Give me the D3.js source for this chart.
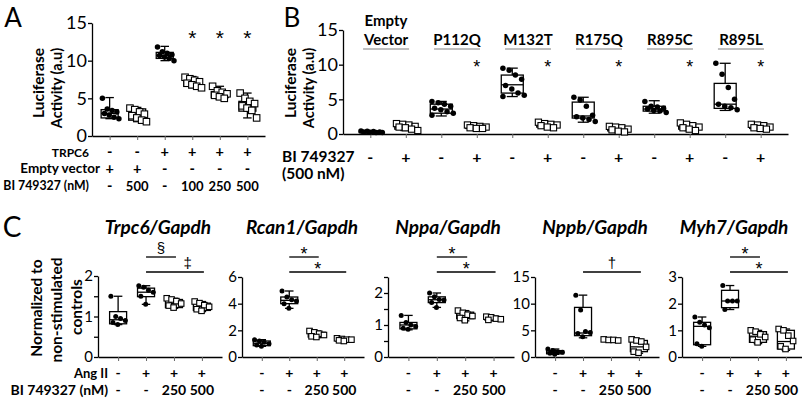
<!DOCTYPE html>
<html><head><meta charset="utf-8">
<script src="https://cdn.jsdelivr.net/npm/d3@7"></script>
<style>body{margin:0;background:#fff}svg{display:block}</style>
</head><body>
<script>
// ---------------- DATA ----------------
// Panel A
const aTRPC6 = ["-","-","+","+","+","+"];
const aEmpty = ["+","+","-","-","-","-"];
const aDose  = ["-","500","-","100","250","500"];
const aFilled = [true,false,true,false,false,false];
const aStar = [false,false,false,true,true,true];
const aMin = [2.3,1.9,10.0,6.4,4.9,2.4];
const aQ1  = [2.4,2.1,10.3,6.6,5.1,3.3];
const aMed = [3.0,2.8,10.7,7.1,5.5,4.1];
const aQ3  = [3.5,3.6,11.1,7.6,5.9,4.6];
const aMax = [5.1,3.8,11.9,7.9,6.6,5.7];
const aPts = [
  [5.0,3.6,3.4,3.2,3.0,2.8,2.5,2.3],
  [3.7,3.5,3.2,2.9,2.7,2.4,2.1,1.9],
  [11.8,11.2,11.0,10.8,10.7,10.5,10.3,10.0],
  [7.8,7.6,7.4,7.2,7.0,6.8,6.6,6.4],
  [6.6,6.0,5.8,5.6,5.4,5.2,5.0],
  [5.7,5.0,4.6,4.3,4.0,3.7,3.4,2.4]
];
const aTicks = [0,5,10,15];

// Panel B
const bGroups = ["Empty\nVector","P112Q","M132T","R175Q","R895C","R895L"];
const bDrug = ["-","+","-","+","-","+","-","+","-","+","-","+"];
const bStar = [false,false,false,true,false,true,false,true,false,true,false,true];
const bMin = [0.15,0.5,2.6,0.7,5.4,0.9,1.7,0.3,3.0,0.5,3.4,0.7];
const bQ1  = [0.2,0.7,3.0,0.8,5.9,1.0,2.3,0.45,3.3,0.7,3.7,0.8];
const bMed = [0.3,1.0,3.6,1.0,7.1,1.3,2.6,0.7,3.6,1.0,4.3,1.0];
const bQ3  = [0.4,1.3,4.3,1.2,8.5,1.5,4.6,1.0,4.0,1.3,7.3,1.3];
const bMax = [0.5,1.5,4.7,1.3,9.5,1.7,5.3,1.1,4.8,1.6,10.2,1.4];
const bPts = [
  [0.45,0.4,0.35,0.3,0.3,0.25,0.2,0.2],
  [1.5,1.4,1.3,1.1,1.0,0.9,0.7,0.5],
  [4.7,4.5,4.3,4.0,3.7,3.5,3.2,3.0,2.7],
  [1.3,1.2,1.1,1.0,0.9,0.8,0.8],
  [9.5,9.2,8.5,7.9,7.0,6.5,5.9,5.6,5.4],
  [1.7,1.5,1.4,1.3,1.2,1.0,0.9],
  [5.3,4.9,4.0,2.7,2.5,2.3,2.1,1.8],
  [1.1,1.0,0.9,0.7,0.6,0.4,0.3],
  [4.7,4.0,3.9,3.7,3.6,3.4,3.3,3.1],
  [1.6,1.4,1.2,1.0,0.9,0.7,0.5],
  [10.2,8.6,6.7,5.0,4.3,4.0,3.8,3.5],
  [1.4,1.3,1.2,1.0,0.9,0.8,0.7]
];
const bTicks = [0,5,10,15];

// Panel C
const cTitles = ["Trpc6/Gapdh","Rcan1/Gapdh","Nppa/Gapdh","Nppb/Gapdh","Myh7/Gapdh"];
const cAng = ["-","+","+","+"];
const cDose = ["-","-","250","500"];
const cFilled = [true,true,false,false];
const cMax = [2,6,2.5,15,3];
const cTicks = [[0,0.5,1,1.5,2],[0,2,4,6],[0,0.5,1,1.5,2,2.5],[0,5,10,15],[0,1,2,3]];
const cSig = [["§","‡"],["*","*"],["*","*"],[null,"†"],["*","*"]];
const cStats = [ // [min,q1,med,q3,max] per group
  [[0.8,0.82,0.92,1.12,1.5],[1.3,1.49,1.6,1.7,1.76],[1.2,1.22,1.32,1.42,1.45],[1.12,1.15,1.24,1.33,1.37]],
  [[0.8,0.85,1.03,1.2,1.3],[3.65,4.0,4.25,4.5,4.95],[1.45,1.5,1.7,1.85,1.95],[1.15,1.2,1.3,1.4,1.45]],
  [[0.85,0.88,1.0,1.08,1.3],[1.55,1.7,1.79,1.88,2.0],[1.13,1.2,1.3,1.4,1.45],[1.13,1.15,1.2,1.25,1.28]],
  [[0.5,0.6,0.9,1.2,1.5],[3.6,4.0,4.5,9.3,11.6],[2.9,3.0,3.2,3.35,3.4],[0.7,1.0,1.9,3.1,3.3]],
  [[0.4,0.46,1.15,1.3,1.5],[1.78,1.85,2.1,2.5,2.68],[0.5,0.55,0.78,0.95,1.0],[0.25,0.3,0.58,1.0,1.05]]
];
const cPts = [
  [[1.5,1.0,0.95,0.9,0.85,0.8],[1.76,1.72,1.65,1.6,1.5,1.3],[1.45,1.42,1.38,1.32,1.27,1.22],[1.37,1.33,1.28,1.24,1.18,1.14]],
  [[1.3,1.2,1.1,1.0,0.9,0.8],[4.95,4.5,4.3,4.2,4.0,3.65],[1.95,1.85,1.75,1.65,1.55,1.5],[1.4,1.35,1.3,1.3,1.25,1.2]],
  [[1.3,1.08,1.0,0.95,0.9,0.87],[2.0,1.88,1.8,1.78,1.7,1.55],[1.45,1.38,1.32,1.28,1.22,1.15],[1.26,1.24,1.2,1.18,1.16]],
  [[1.5,1.2,1.0,0.9,0.7,0.5],[11.6,8.8,4.8,4.6,4.4,3.8],[3.3,3.2,3.2,3.1],[3.3,3.1,2.9,1.9,1.0,0.8]],
  [[1.5,1.3,1.2,1.1,0.5,0.4],[2.68,2.1,2.1,2.1,1.78],[1.0,0.95,0.85,0.75,0.65,0.55],[1.05,1.0,0.8,0.6,0.4,0.3]]
];

// ---------------- DRAWING ----------------
const FONT = 'Lato, "Open Sans", sans-serif';
const SYMFONT = '"Liberation Sans", "DejaVu Sans", sans-serif';
const svg = d3.select('body').append('svg').attr('width',802).attr('height',402)
  .style('font-family',FONT);

function drawAxes(g, xs, ys, ticks, fs, fmt){
  const ya = d3.axisLeft(ys).tickValues(ticks).tickSize(4).tickSizeOuter(0).tickPadding(1)
    .tickFormat(fmt || (d=>Number.isInteger(d)?d:''));
  g.append('g').attr('transform',`translate(${xs.range()[0]},0)`).call(ya)
    .call(s=>{s.selectAll('text').attr('font-size',fs).attr('fill','#000').style('font-family',FONT);
              s.selectAll('line,path').attr('stroke','#000').attr('stroke-width',1.3);});
  const xa = d3.axisBottom(xs).tickSize(4).tickSizeOuter(0).tickFormat('');
  g.append('g').attr('transform',`translate(0,${ys(0)})`).call(xa)
    .call(s=>{s.selectAll('path').attr('stroke','#000').attr('stroke-width',1.3);
              s.selectAll('line').attr('stroke','#666').attr('stroke-width',1);});
}

function drawBox(g, x, ys, st, pts, filled, bw, sz){
  const [mn,q1,md,q3,mx] = st;
  const cw = bw*0.5;
  const L = g.append('g').attr('stroke','#000').attr('stroke-width',1.3).attr('fill','none');
  L.append('line').attr('x1',x).attr('x2',x).attr('y1',ys(q3)).attr('y2',ys(mx));
  L.append('line').attr('x1',x).attr('x2',x).attr('y1',ys(q1)).attr('y2',ys(mn));
  L.append('line').attr('x1',x-cw/2).attr('x2',x+cw/2).attr('y1',ys(mx)).attr('y2',ys(mx));
  L.append('line').attr('x1',x-cw/2).attr('x2',x+cw/2).attr('y1',ys(mn)).attr('y2',ys(mn));
  L.append('rect').attr('x',x-bw/2).attr('width',bw).attr('y',ys(q3)).attr('height',Math.max(0.5,ys(q1)-ys(q3)));
  L.append('line').attr('x1',x-bw/2).attr('x2',x+bw/2).attr('y1',ys(md)).attr('y2',ys(md));
  const k = 4;
  const off = i => ((i % k) - (k-1)/2) * (bw*0.85/(k-1)) + ((Math.floor(i/k))%2 ? bw*0.12 : 0);
  pts.forEach((v,i)=>{
    const px = x + off(i), py = ys(v);
    if(filled){
      g.append('circle').attr('cx',px).attr('cy',py).attr('r',sz/2).attr('fill','#000');
    } else {
      g.append('rect').attr('x',px-sz/2).attr('y',py-sz/2).attr('width',sz).attr('height',sz)
        .attr('fill','#fff').attr('stroke','#000').attr('stroke-width',1.1);
    }
  });
}

function txt(x,y,s,o={}){
  return svg.append('text').attr('x',x).attr('y',y).text(s)
    .attr('font-size',o.fs||13).attr('font-weight',o.fw||'bold')
    .attr('text-anchor',o.anchor||'middle').attr('font-style',o.fi||'normal').attr('fill','#000')
    .style('font-family',o.ff||FONT);
}
function vtxt(x,y,s,fs){
  svg.append('text').attr('transform',`translate(${x},${y}) rotate(-90)`).text(s)
    .attr('font-size',fs).attr('font-weight','bold').attr('text-anchor','middle');
}
const PM = 14.5; // size of the +/- symbols

// ---- Panel A ----
{
  const g = svg.append('g');
  const xs = d3.scalePoint().domain(d3.range(6)).range([92,265]).padding(0.64);
  const ys = d3.scaleLinear().domain([0,15]).range([136,23]);
  drawAxes(g, xs, ys, aTicks, 18);
  d3.range(6).forEach(i=>{
    drawBox(g, xs(i), ys, [aMin[i],aQ1[i],aMed[i],aQ3[i],aMax[i]], aPts[i], aFilled[i], 17, aFilled[i]?5.5:6.5);
    txt(xs(i),157,aTRPC6[i],{fs:PM});
    txt(xs(i),174,aEmpty[i],{fs:PM});
    txt(xs(i),191,aDose[i],{fs:aDose[i]==='-'?PM:13});
    if(aStar[i]) txt(xs(i),45,'*',{fs:21,fw:'normal',ff:SYMFONT});
  });
  txt(89,157,'TRPC6',{anchor:'end',fs:12});
  txt(100,173,'Empty vector',{anchor:'end',fs:13.5});
  txt(89,190,'BI 749327 (nM)',{anchor:'end',fs:12.3});
  vtxt(44,83,'Luciferase',15.5);
  vtxt(62,88,'Activity (a.u)',14.5);
  txt(13,27,'A',{fs:26,fw:'normal'});
}

// ---- Panel B ----
{
  const g = svg.append('g');
  const xs = d3.scalePoint().domain(d3.range(12)).range([343,788]).padding(0.77);
  const ys = d3.scaleLinear().domain([0,15]).range([134,30]);
  drawAxes(g, xs, ys, bTicks, 18);
  d3.range(12).forEach(i=>{
    const f = bDrug[i]==='-';
    drawBox(g, xs(i), ys, [bMin[i],bQ1[i],bMed[i],bQ3[i],bMax[i]], bPts[i], f, 22, f?5.5:6.2);
    txt(xs(i),163,bDrug[i],{fs:16});
    if(bStar[i]) txt(xs(i),73,'*',{fs:18,fw:'normal',ff:SYMFONT});
  });
  bGroups.forEach((lab,j)=>{
    const cx = (xs(2*j)+xs(2*j+1))/2 - 2;
    const lines = lab.split('\n');
    lines.forEach((l,k)=> txt(cx, 45 - (lines.length-1-k)*19, l, {fs:15}));
    svg.append('line').attr('x1',cx-23).attr('x2',cx+23).attr('y1',49).attr('y2',49)
      .attr('stroke','#aaa').attr('stroke-width',1.5);
  });
  txt(282,162,'BI 749327',{anchor:'start',fs:15.5});
  txt(282,179,'(500 nM)',{anchor:'start',fs:15.5});
  vtxt(296,83,'Luciferase',15.5);
  vtxt(314,88,'Activity (a.u)',14.5);
  txt(292,27,'B',{fs:26,fw:'normal'});
}

// ---- Panel C ----
{
  const x0s = [98,242,388,535,682];
  const ws  = [124,122,126,124,124];
  cTitles.forEach((t,p)=>{
    const g = svg.append('g');
    const xs = d3.scalePoint().domain(d3.range(4)).range([x0s[p],x0s[p]+ws[p]]).padding(0.72);
    const ys = d3.scaleLinear().domain([0,cMax[p]]).range([357,277]);
    if(p===0) ys.range([357,276]);
    drawAxes(g, xs, ys, cTicks[p], 15);
    d3.range(4).forEach(i=>{
      drawBox(g, xs(i), ys, cStats[p][i], cPts[p][i], cFilled[i], 17, cFilled[i]?5:5.5);
      txt(xs(i),378,cAng[i],{fs:14});
      txt(xs(i),395,cDose[i],{fs:14});
    });
    // significance bars
    const sig = cSig[p];
    const yLines = [257,272];
    sig.forEach((s,k)=>{
      if(!s) return;
      const xa = xs(1), xb = xs(k===0?2:3)+2;
      svg.append('line').attr('x1',xa).attr('x2',xb).attr('y1',yLines[k]).attr('y2',yLines[k])
        .attr('stroke','#000').attr('stroke-width',1.3);
      const cx = (p===0 && k===1) ? xs(1)+(xb-xa)*0.72 : (xa+xb)/2;
      const isStar = s==='*';
      txt(cx, yLines[k]-(isStar?-3:4), s, {fs:isStar?18:15, fw:'normal', ff:SYMFONT});
    });
    const tcx = x0s[p] + (p===4 ? 52 : 60);
    txt(tcx,234,t,{fs:19,fi:'italic'});
  });
  txt(108,378,'Ang II',{anchor:'end',fs:13});
  txt(108,395,'BI 749327 (nM)',{anchor:'end',fs:14});
  vtxt(42,308,'Normalized to',15.5);
  vtxt(62,310,'non-stimulated',15.5);
  vtxt(82,307,'controls',15.5);
  txt(12,237,'C',{fs:28,fw:'normal'});
}
</script>
</body></html>
